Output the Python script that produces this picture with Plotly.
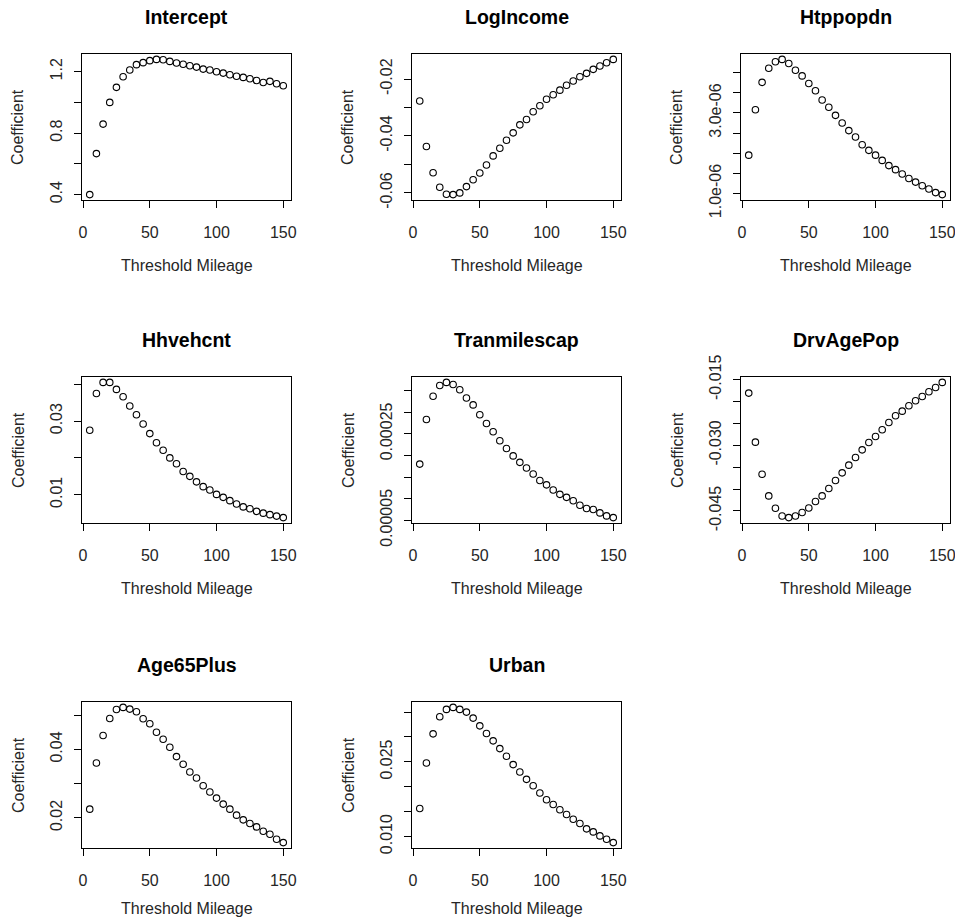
import plotly.graph_objects as go

# Threshold mileage used for each fitted model
threshold_mileage = [5, 10, 15, 20, 25, 30, 35, 40, 45, 50, 55, 60, 65, 70, 75,
                     80, 85, 90, 95, 100, 105, 110, 115, 120, 125, 130, 135, 140, 145, 150]

# Estimated coefficient of each variable at every threshold
intercept = [0.400, 0.667, 0.859, 1.000, 1.098, 1.167, 1.211, 1.246, 1.259, 1.272,
             1.280, 1.278, 1.267, 1.257, 1.248, 1.239, 1.230, 1.217, 1.211, 1.200,
             1.191, 1.180, 1.170, 1.163, 1.154, 1.143, 1.130, 1.137, 1.122, 1.109]
log_income = [-0.0277, -0.0437, -0.0529, -0.0580, -0.0605, -0.0606, -0.0600, -0.0578, -0.0554, -0.0530,
              -0.0502, -0.0470, -0.0443, -0.0415, -0.0389, -0.0361, -0.0342, -0.0315, -0.0294, -0.0271,
              -0.0255, -0.0239, -0.0222, -0.0207, -0.0192, -0.0180, -0.0166, -0.0154, -0.0143, -0.0131]
htppopdn = [1.95e-06, 3.08e-06, 3.76e-06, 4.11e-06, 4.27e-06, 4.33e-06, 4.23e-06, 4.06e-06, 3.92e-06, 3.73e-06,
            3.55e-06, 3.32e-06, 3.14e-06, 2.94e-06, 2.75e-06, 2.56e-06, 2.40e-06, 2.21e-06, 2.07e-06, 1.95e-06,
            1.82e-06, 1.69e-06, 1.59e-06, 1.48e-06, 1.37e-06, 1.28e-06, 1.19e-06, 1.11e-06, 1.02e-06, 0.97e-06]
hhvehcnt = [0.0275, 0.0375, 0.0405, 0.0405, 0.0386, 0.0366, 0.0341, 0.0317, 0.0292, 0.0266,
            0.0241, 0.0221, 0.0200, 0.0184, 0.0163, 0.0150, 0.0135, 0.0122, 0.0113, 0.0101,
            0.0093, 0.0084, 0.0075, 0.0067, 0.0062, 0.0055, 0.0050, 0.0046, 0.0042, 0.0038]
tranmilescap = [0.000180, 0.000283, 0.000337, 0.000362, 0.000369, 0.000364, 0.000352, 0.000333, 0.000317, 0.000294,
                0.000274, 0.000255, 0.000234, 0.000216, 0.000199, 0.000184, 0.000171, 0.000157, 0.000142, 0.000132,
                0.000120, 0.000110, 0.000103, 0.0000950, 0.0000849, 0.0000771, 0.0000748, 0.0000671, 0.0000601, 0.0000562]
drv_age_pop = [-0.01805, -0.02928, -0.03660, -0.04157, -0.04439, -0.04615, -0.04653, -0.04615, -0.04538, -0.04432,
               -0.04286, -0.04157, -0.03989, -0.03805, -0.03630, -0.03454, -0.03279, -0.03103, -0.02935, -0.02798,
               -0.02645, -0.02477, -0.02324, -0.02218, -0.02095, -0.01981, -0.01882, -0.01775, -0.01676, -0.01561]
age65plus = [0.02254, 0.03603, 0.04405, 0.04903, 0.05167, 0.05226, 0.05177, 0.05099, 0.04893, 0.04747,
             0.04502, 0.04297, 0.04063, 0.03789, 0.03564, 0.03339, 0.03163, 0.02938, 0.02753, 0.02577,
             0.02401, 0.02254, 0.02078, 0.01941, 0.01834, 0.01736, 0.01609, 0.01521, 0.01374, 0.01277]
urban = [0.01565, 0.02478, 0.03063, 0.03406, 0.03554, 0.03594, 0.03554, 0.03500, 0.03379, 0.03224,
         0.03070, 0.02922, 0.02767, 0.02613, 0.02445, 0.02297, 0.02149, 0.02021, 0.01874, 0.01739,
         0.01645, 0.01538, 0.01444, 0.01349, 0.01262, 0.01155, 0.01094, 0.01013, 0.00946, 0.00879]

panel_titles = ["Intercept", "LogIncome", "Htppopdn", "Hhvehcnt", "Tranmilescap",
                "DrvAgePop", "Age65Plus", "Urban"]
panel_values = [intercept, log_income, htppopdn, hhvehcnt, tranmilescap,
                drv_age_pop, age65plus, urban]

# Y tick positions and the labels shown (blank where the label is skipped)
y_tick_vals = [
    [0.4, 0.6, 0.8, 1.0, 1.2],
    [-0.06, -0.05, -0.04, -0.03, -0.02],
    [1.0e-06, 1.5e-06, 2.0e-06, 2.5e-06, 3.0e-06, 3.5e-06, 4.0e-06],
    [0.01, 0.02, 0.03, 0.04],
    [0.00005, 0.0001, 0.00015, 0.0002, 0.00025, 0.0003, 0.00035],
    [-0.045, -0.040, -0.035, -0.030, -0.025, -0.020, -0.015],
    [0.02, 0.03, 0.04, 0.05],
    [0.010, 0.015, 0.020, 0.025, 0.030, 0.035],
]
y_tick_text = [
    ["0.4", "", "0.8", "", "1.2"],
    ["-0.06", "", "-0.04", "", "-0.02"],
    ["1.0e-06", "", "", "", "3.0e-06", "", ""],
    ["0.01", "", "0.03", ""],
    ["0.00005", "", "", "", "0.00025", "", ""],
    ["-0.045", "", "", "-0.030", "", "", "-0.015"],
    ["0.02", "", "0.04", ""],
    ["0.010", "", "", "0.025", "", ""],
]
x_tick_vals = [0, 50, 100, 150]
x_tick_text = ["0", "50", "100", "150"]

x_title = "Threshold Mileage"
y_title = "Coefficient"

# Page geometry (pixels)
W, H = 955, 919
col_left = [82, 412, 741]
row_top = [54, 377, 702]
plot_w, plot_h = 209, 146
x_title_gap = [65, 65, 60]

FONT = "Liberation Sans, Arial, sans-serif"
TEXT_COL = "#262626"


def padded(vals):
    lo, hi = min(vals), max(vals)
    pad = 0.04 * (hi - lo)
    return [lo - pad, hi + pad]


fig = go.Figure()
annotations = []
for i, (title, vals) in enumerate(zip(panel_titles, panel_values)):
    r, c = divmod(i, 3)
    n = i + 1
    xa = "x" if n == 1 else f"x{n}"
    ya = "y" if n == 1 else f"y{n}"
    fig.add_trace(go.Scatter(
        x=threshold_mileage, y=vals, mode="markers",
        marker=dict(symbol="circle-open", size=6.5, color="black",
                    line=dict(width=1.1, color="black")),
        xaxis=xa, yaxis=ya, showlegend=False, hoverinfo="x+y"))

    x0 = col_left[c] / W
    x1 = (col_left[c] + plot_w) / W
    y1 = 1 - row_top[r] / H
    y0 = 1 - (row_top[r] + plot_h) / H

    axis_common = dict(showline=True, linecolor="black", linewidth=1, mirror=True,
                       ticks="outside", ticklen=7, tickwidth=1, tickcolor="black",
                       showgrid=False, zeroline=False, automargin=False,
                       ticklabeloverflow="allow",
                       tickfont=dict(family=FONT, size=16, color=TEXT_COL))
    fig.layout[("xaxis" if n == 1 else f"xaxis{n}")] = dict(
        domain=[x0, x1], anchor=ya, range=padded(threshold_mileage),
        tickmode="array", tickvals=x_tick_vals, ticktext=x_tick_text,
        ticklabelstandoff=11, **axis_common)
    fig.layout[("yaxis" if n == 1 else f"yaxis{n}")] = dict(
        domain=[y0, y1], anchor=xa, range=padded(vals),
        tickmode="array", tickvals=y_tick_vals[i], ticktext=y_tick_text[i],
        tickangle=-90, ticklabelstandoff=6, **axis_common)

    xd = f"{xa} domain"
    yd = f"{ya} domain"
    annotations.append(dict(text=f"<b>{title}</b>", x=0.5, y=1, xref=xd, yref=yd,
                            xanchor="center", yanchor="middle", yshift=37, showarrow=False,
                            font=dict(family=FONT, size=19.5, color="black")))
    annotations.append(dict(text=x_title, x=0.5, y=0, xref=xd, yref=yd,
                            xanchor="center", yanchor="middle", yshift=-x_title_gap[r],
                            showarrow=False, font=dict(family=FONT, size=16, color=TEXT_COL)))
    annotations.append(dict(text=y_title, x=0, y=0.5, xref=xd, yref=yd,
                            xanchor="center", yanchor="middle", xshift=-64, textangle=-90,
                            showarrow=False, font=dict(family=FONT, size=16, color=TEXT_COL)))

fig.update_layout(width=W, height=H, margin=dict(l=0, r=0, t=0, b=0),
                  paper_bgcolor="white", plot_bgcolor="white",
                  annotations=annotations)

fig.write_html("out.html")
